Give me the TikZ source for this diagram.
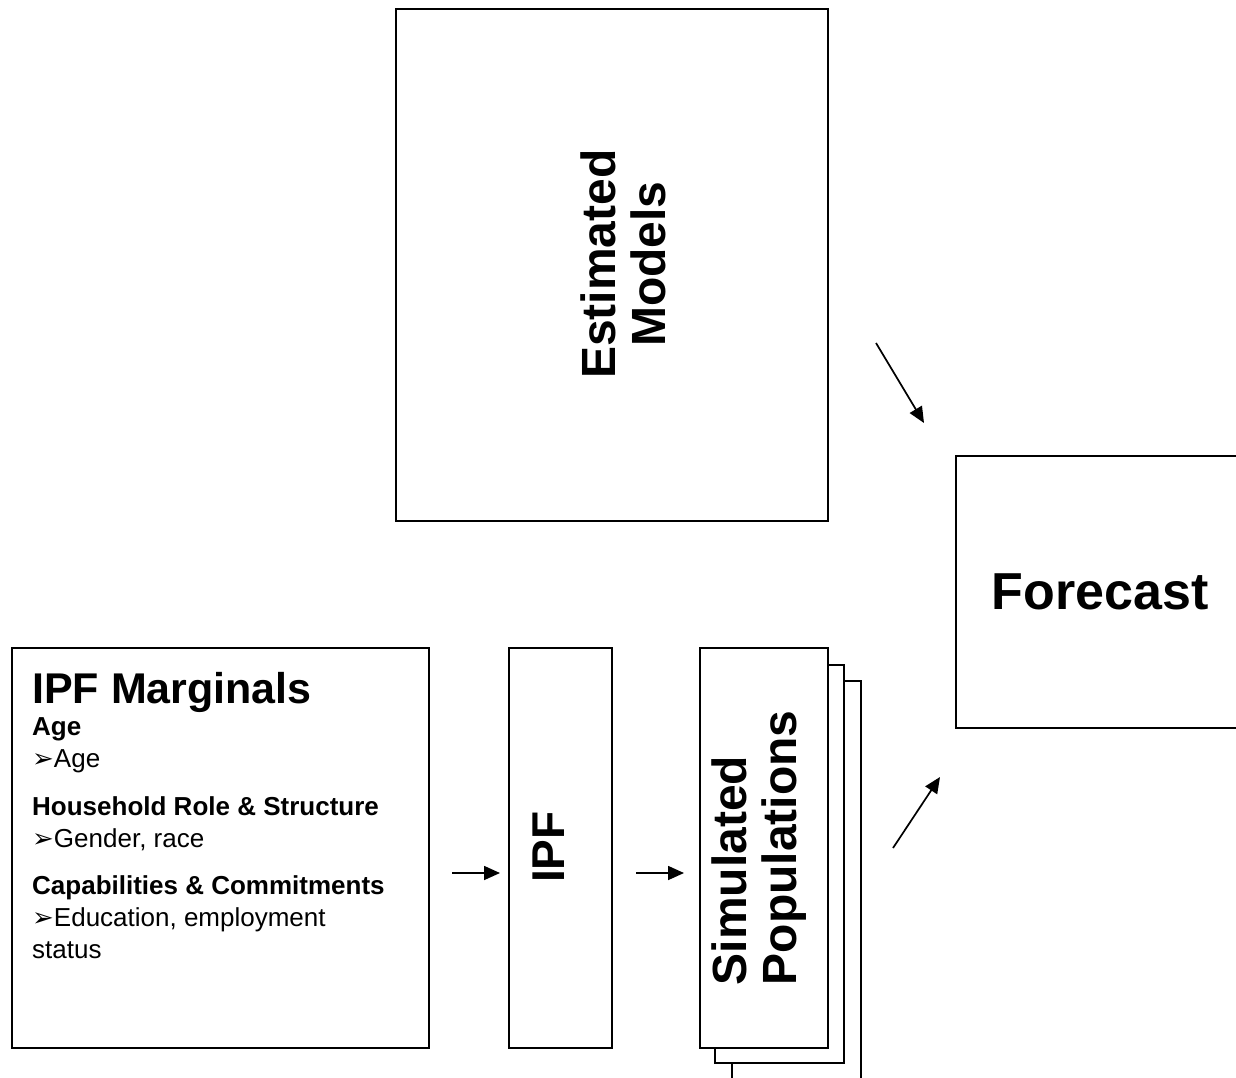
\documentclass[tikz,border=0pt]{standalone}
\usepackage{fontspec}
\setmainfont{Liberation Sans}
\newfontfamily\dingfont{DejaVu Sans}
\usetikzlibrary{
  arrows.meta,
  positioning
}

\tikzset{
  box/.style={draw, line width=1.9pt, fill=white, inner sep=0pt},
  vtext/.style={rotate=90, inner sep=0pt, align=center, font=\fontsize{48}{50}\selectfont\bfseries}
}

\begin{document}
\begin{tikzpicture}[>={Triangle[length=16pt,width=14pt]}, x=1pt, y=1pt]
\useasboundingbox (0,0) rectangle (1236,-1078);

\node (Models) [box, minimum width=432, minimum height=512] at (612,-265) {};
\node (ModelsText) [vtext] at (623,-264) {Estimated\\Models};
\node (Forecast) [box, minimum width=288, minimum height=272, font=\fontsize{52}{52}\selectfont\bfseries] at (1100,-592) {Forecast};

\node (Marginals) [box, minimum width=417, minimum height=400] at (220.5,-848) {};
\node (MargText) [anchor=north west, inner sep=0pt, align=left, font=\fontsize{26}{32}\selectfont] at (32,-672)
	{{\fontsize{43}{32}\selectfont\bfseries IPF Marginals}\\
	 \textbf{Age}\\
	 {\dingfont ➢}Age\\[16pt]
	 \textbf{Household Role \& Structure}\\
	 {\dingfont ➢}Gender, race\\[15pt]
	 \textbf{Capabilities \& Commitments}\\
	 {\dingfont ➢}Education, employment\\
	 status};

\node (IPF) [box, minimum width=103, minimum height=400] at (560.5,-848) {};
\node (IPFText) [vtext, font=\fontsize{46}{48}\selectfont\bfseries] at (549,-847) {IPF};

% copies behind the populations box
\node (Sim3) [box, minimum width=129, minimum height=400] at (796.5,-881) {};
\node (Sim2) [box, minimum width=129, minimum height=398] at (779.5,-864) {};
\node (Sim) [box, minimum width=128, minimum height=400] at (764,-848) {};
\node (SimText) [vtext, align=left] at (759,-848) {Simulated\\Populations};

\coordinate (margout) at (452,-873);
\coordinate (ipfin) at (500,-873);
\coordinate (ipfout) at (636,-873);
\coordinate (simin) at (684,-873);
\coordinate (modelsout) at (876,-343);
\coordinate (fcin1) at (924,-423);
\coordinate (simout) at (893,-848);
\coordinate (fcin2) at (940,-777);

\draw[->, line width=1.7pt] (margout) -- (ipfin);
\draw[->, line width=1.7pt] (ipfout) -- (simin);
\draw[->, line width=1.7pt] (modelsout) -- (fcin1);
\draw[->, line width=1.7pt] (simout) -- (fcin2);
\end{tikzpicture}
\end{document}
